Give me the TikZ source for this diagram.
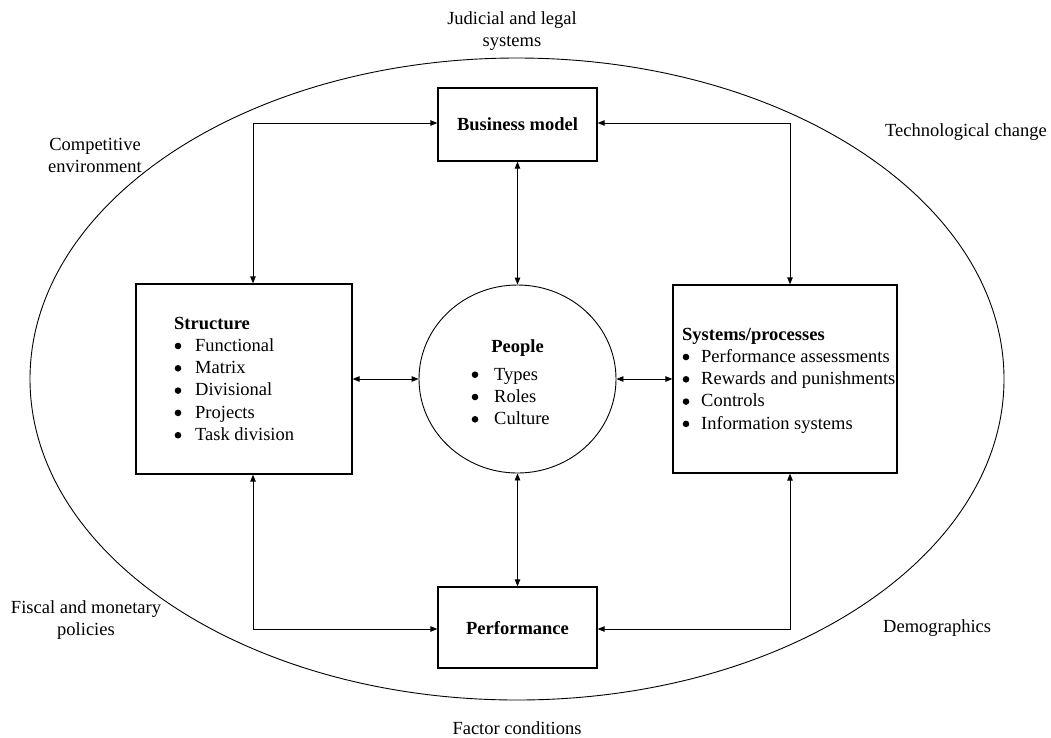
\documentclass[tikz,border=0pt]{standalone}
\usepackage{fontspec}
\setmainfont{Liberation Serif}
\usetikzlibrary{arrows.meta,shapes.geometric}

\tikzset{
  txt/.style={font=\fontsize{18.5}{22.3}\selectfont, inner sep=0pt},
  box/.style={draw, line width=1.3pt, inner sep=0pt},
  link/.style={line width=0.9pt,
    {Triangle[length=7pt,width=5.5pt]}-{Triangle[length=7pt,width=5.5pt]}},
  dot/.style={fill=black},
}

\begin{document}
\begin{tikzpicture}[x=1pt,y=-1pt]
\useasboundingbox (0,0) rectangle (1051,737);

% environment
\node[draw, ellipse, line width=0.9pt, inner sep=0pt,
      minimum width=974, minimum height=642] (env) at (517,379) {};

% organisation elements
\node[box, minimum width=159, minimum height=73] (biz) at (517.5,124.5) {};
\node[box, minimum width=159, minimum height=81] (perf) at (517.5,627.5) {};
\node[box, minimum width=216, minimum height=190] (struct) at (244,379) {};
\node[box, minimum width=224, minimum height=188] (sys) at (785,379) {};
\node[draw, ellipse, line width=0.9pt, inner sep=0pt,
      minimum width=197, minimum height=188] (people) at (517.5,379) {};

% texts of the elements
\node[txt, anchor=base] (biztxt) at (517.5,130) {\textbf{Business model}};
\node[txt, anchor=base] (perftxt) at (517.5,634) {\textbf{Performance}};
\node[txt, anchor=base west] (structtxt) at (174,329) {%
  \begin{tabular}[t]{@{}l@{}}
  \textbf{Structure}\\
  \hspace{21pt}Functional\\
  \hspace{21pt}Matrix\\
  \hspace{21pt}Divisional\\
  \hspace{21pt}Projects\\
  \hspace{21pt}Task division
  \end{tabular}};
\node[txt, anchor=base west] (systxt) at (682,340) {%
  \begin{tabular}[t]{@{}l@{}}
  \textbf{Systems/processes}\\
  \hspace{19pt}Performance assessments\\
  \hspace{19pt}Rewards and punishments\\
  \hspace{19pt}Controls\\
  \hspace{19pt}Information systems
  \end{tabular}};
\node[txt, anchor=base] (peoplehead) at (517.5,352) {\textbf{People}};
\node[txt, anchor=base west] (peopletxt) at (471,380) {%
  \begin{tabular}[t]{@{}l@{}}
  \hspace{23pt}Types\\
  \hspace{23pt}Roles\\
  \hspace{23pt}Culture
  \end{tabular}};

% list bullets (one line pitch = 22.3)
\foreach \i in {1,...,5}
  \fill[dot] (178,{329+22.3*\i-5.3}) circle (3.3pt);
\foreach \i in {1,...,4}
  \fill[dot] (686,{340+22.3*\i-5.3}) circle (3.3pt);
\foreach \i in {0,...,2}
  \fill[dot] (475,{380+22.3*\i-5.3}) circle (3.3pt);

% surrounding forces
\node[txt, anchor=base] (judicial) at (512,24) {%
  \begin{tabular}[t]{@{}c@{}}Judicial and legal\\systems\end{tabular}};
\node[txt, anchor=base] (compet) at (95,150) {%
  \begin{tabular}[t]{@{}c@{}}Competitive\\environment\end{tabular}};
\node[txt, anchor=base west] (techno) at (885,136) {Technological change};
\node[txt, anchor=base] (fiscal) at (86,613) {%
  \begin{tabular}[t]{@{}c@{}}Fiscal and monetary\\policies\end{tabular}};
\node[txt, anchor=base west] (demo) at (883,632) {Demographics};
\node[txt, anchor=base] (factor) at (517,734) {Factor conditions};

% links
\draw[link] ([xshift=9pt]struct.north) |- ([yshift=1.5pt]biz.west);
\draw[link] ([xshift=5pt]sys.north) |- ([yshift=1.5pt]biz.east);
\draw[link] (biz.south) -- (people.north);
\draw[link] (people.south) -- (perf.north);
\draw[link] (struct.east) -- (people.west);
\draw[link] (people.east) -- (sys.west);
\draw[link] ([xshift=9pt]struct.south) |- ([yshift=-1.5pt]perf.west);
\draw[link] ([xshift=5pt]sys.south) |- ([yshift=-1.5pt]perf.east);
\end{tikzpicture}
\end{document}
